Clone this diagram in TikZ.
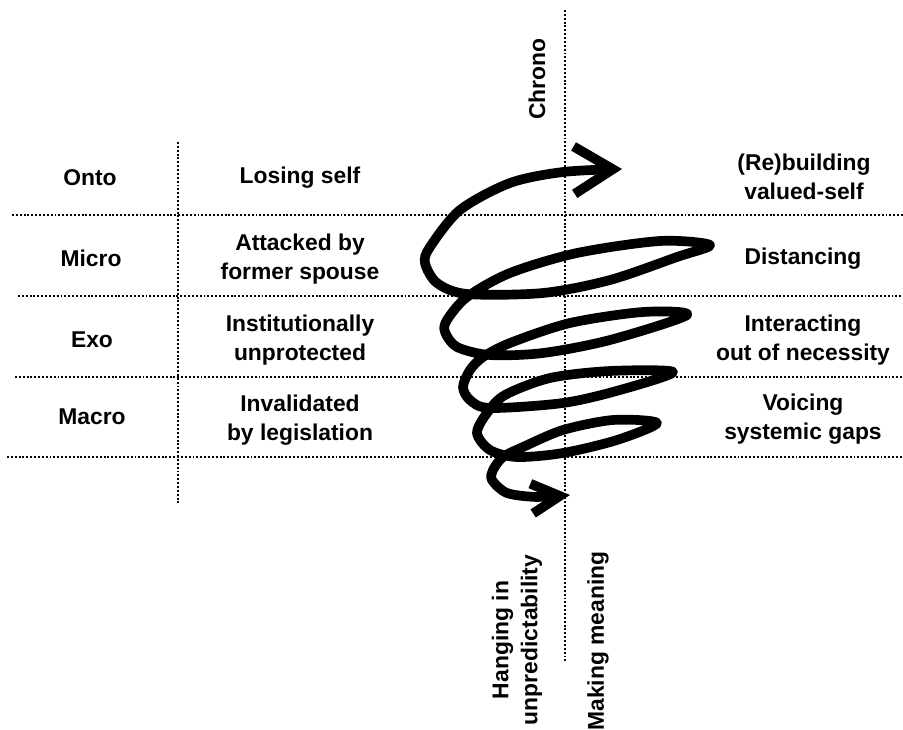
\documentclass[tikz,border=0pt]{standalone}
\usepackage{fontspec}
\setmainfont{Liberation Sans}
\usetikzlibrary{arrows.meta}

\begin{document}
\begin{tikzpicture}[x=0.02cm, y=-0.02cm,
    lbl/.style={font=\fontsize{13}{16.5}\selectfont\bfseries, align=center, inner sep=1pt},
    grid/.style={line width=1.6pt, dash pattern=on 1.1pt off 1.1pt}]
    \useasboundingbox (0,0) rectangle (903,730);
    \draw[grid] (12,215) -- (903,215);
    \draw[grid] (18,296) -- (903,296);
    \draw[grid] (15,377) -- (903,377);
    \draw[grid] (7,457) -- (903,457);
    \draw[grid] (178,142) -- (178,505);
    \draw[grid] (565,10) -- (565,662);
    \node[lbl] (onto)  at (90,178) {Onto};
    \node[lbl] (micro) at (91,258) {Micro};
    \node[lbl] (exo)   at (92,340) {Exo};
    \node[lbl] (macro) at (92,417) {Macro};
    \node[lbl] (losing)      at (300,178) {Losing self};
    \node[lbl] (attacked)    at (300,259) {Attacked by\\former spouse};
    \node[lbl] (unprotected) at (300,340) {Institutionally\\unprotected};
    \node[lbl] (invalidated) at (300,420) {Invalidated\\by legislation};
    \node[lbl] (rebuilding)  at (804,177) {(Re)building\\valued-self};
    \node[lbl] (distancing)  at (803,259) {Distancing};
    \node[lbl] (interacting) at (803,340) {Interacting\\out of necessity};
    \node[lbl] (voicing)     at (803,419) {Voicing\\systemic gaps};
    \node[lbl, rotate=90] (chrono)  at (537,79)  {Chrono};
    \node[lbl, rotate=90] (hanging) at (517,640) {Hanging in\\unpredictability};
    \node[lbl, rotate=90] (making)  at (598,641) {Making meaning};
    \draw[line width=5.5pt, line cap=round, line join=round,
        {Straight Barb[length=16pt,width=17pt]}-{Straight Barb[length=22pt,width=27pt]}]
        plot[smooth] coordinates {(570,495) (537,497) (507,493) (492,480) (493,470)
        (503,457) (523,447) (563,430) (613,420) (657,423) (617,440) (563,453)
        (517,457) (490,450) (477,433) (487,413) (505,395) (550,378) (610,371)
        (673,372) (620,390) (563,403) (490,408) (470,400) (463,387) (470,370)
        (483,357) (510,343) (570,323) (643,312) (687,315) (610,340) (543,353)
        (490,355) (457,347) (445,332) (447,320) (467,297) (510,273) (577,253)
        (660,241) (710,245) (677,257) (610,280) (543,293) (467,294) (437,283)
        (425,263) (430,247) (460,210) (510,183) (563,172) (622,169)};
\end{tikzpicture}
\end{document}
